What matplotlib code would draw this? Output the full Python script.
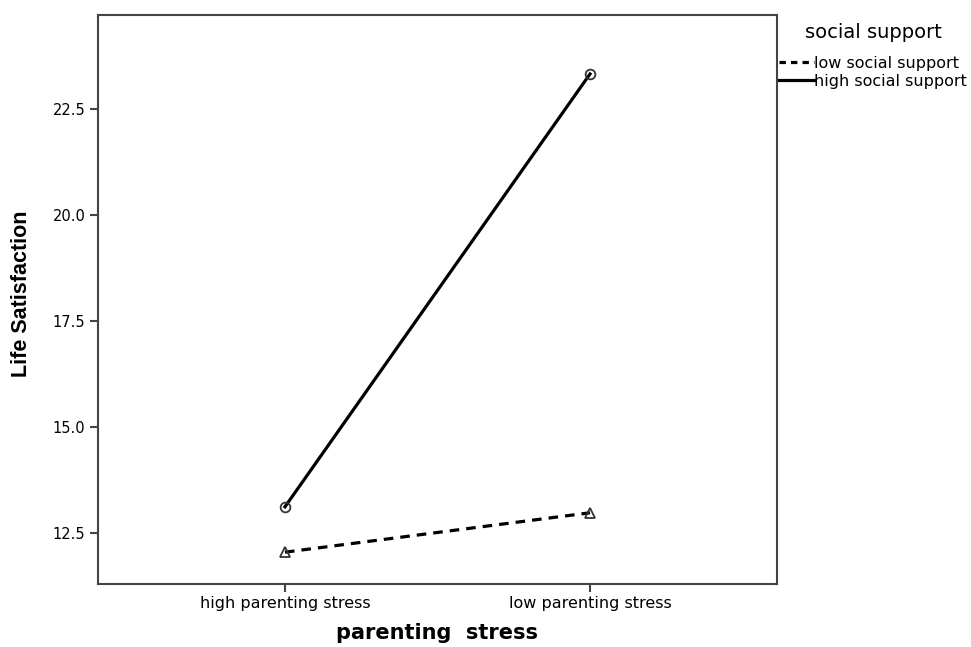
import matplotlib
matplotlib.use('Agg')
import matplotlib.pyplot as plt

plt.rcParams['font.family'] = ['DejaVu Sans']

# data
categories = ['high parenting stress', 'low parenting stress']
low_support = [12.05, 12.98]
high_support = [13.12, 23.33]
y_ticks = [12.5, 15.0, 17.5, 20.0, 22.5]
legend_labels = ['low social support', 'high social support']


def main():
    fig = plt.figure(figsize=(9.71, 6.47), dpi=100)
    ax = fig.add_axes([0.1009, 0.0974, 0.6993, 0.8794])
    x = list(range(len(categories)))

    ax.plot(x, low_support, color='black', linestyle=(0, (3.0, 2.2)), linewidth=2.3,
            marker='^', markersize=7, markerfacecolor='none', markeredgecolor='#333333',
            markeredgewidth=1.3)
    ax.plot(x, high_support, color='black', linestyle='-', linewidth=2.3,
            marker='o', markersize=7, markerfacecolor='none', markeredgecolor='#333333',
            markeredgewidth=1.3)

    # categories sit with equal margins on both sides, as in SPSS
    ax.set_xlim(-0.613, 1.613)
    ax.set_ylim(11.3, 24.72)
    ax.set_xticks(x)
    ax.set_xticklabels(categories, fontsize=11.5)
    ax.set_yticks(y_ticks)
    ax.set_yticklabels(['%.1f' % v for v in y_ticks], fontsize=10.5)
    ax.tick_params(direction='out', length=6, width=1.5, color='#444444', pad=3)
    for s in ax.spines.values():
        s.set_linewidth(1.5)
        s.set_color('#444444')

    ax.set_xlabel('parenting  stress', fontsize=15, fontweight='bold', labelpad=8)
    ax.set_ylabel('Life Satisfaction', fontsize=15.5, fontweight='bold',
                  family=['Liberation Sans'])
    ax.yaxis.set_label_coords(-0.097, 0.51)

    leg = fig.legend([plt.Line2D([], [], color='black', lw=2.3, linestyle=(0, (2.0, 1.6))),
                      plt.Line2D([], [], color='black', lw=2.3)],
                     legend_labels, loc='upper left', bbox_to_anchor=(779 / 971, 0.965),
                     frameon=False, fontsize=11.5, title='social support',
                     title_fontsize=14, handlelength=2.2, handletextpad=0.0,
                     labelspacing=0.2, borderpad=0, borderaxespad=0)
    leg._legend_box.align = 'center'
    leg._legend_box.sep = 10

    fig.savefig('out.png', dpi=100)


if __name__ == '__main__':
    main()
